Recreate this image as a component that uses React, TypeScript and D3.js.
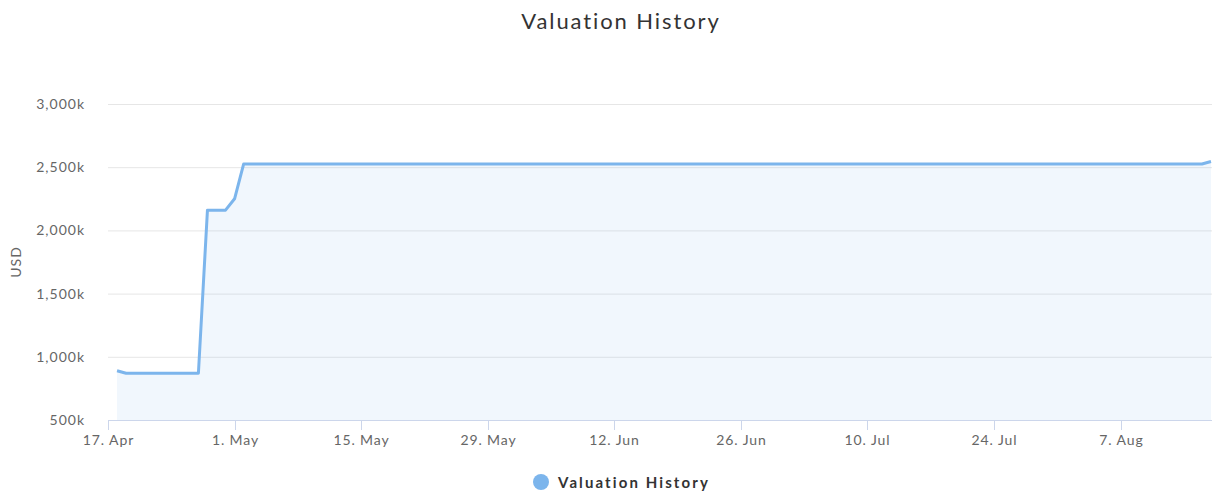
import React from "react";
import * as d3 from "d3";

const dates = [
  "2023-04-18", "2023-04-19", "2023-04-27", "2023-04-28", "2023-04-30",
  "2023-05-01", "2023-05-02", "2023-08-16", "2023-08-17",
];
const values = [890, 870, 870, 2160, 2160, 2250, 2525, 2525, 2545];
const yTicks = [500, 1000, 1500, 2000, 2500, 3000];
const xTickDates = [
  "2023-04-17", "2023-05-01", "2023-05-15", "2023-05-29", "2023-06-12",
  "2023-06-26", "2023-07-10", "2023-07-24", "2023-08-07",
];

const W = 1212;
const H = 491;
const left = 108;
const right = 1211;
const top = 104;
const bottom = 420;
const font = "'Lato', 'Open Sans', sans-serif";

const parse = d3.utcParse("%Y-%m-%d");

const App = () => {
  const points = dates.map((d, i) => ({ date: parse(d) as Date, value: values[i] }));
  const x = d3
    .scaleUtc()
    .domain([parse("2023-04-17") as Date, parse("2023-08-17") as Date])
    .range([left, right]);
  const y = d3.scaleLinear().domain([500, 3000]).range([bottom, top]);
  const fmtY = (v: number) => d3.format(",")(v) + "k";
  const fmtX = d3.utcFormat("%-d. %b");

  const line = d3
    .line<{ date: Date; value: number }>()
    .x(d => x(d.date))
    .y(d => y(d.value));
  const area = d3
    .area<{ date: Date; value: number }>()
    .x(d => x(d.date))
    .y0(bottom)
    .y1(d => y(d.value));

  return (
    <svg width={W} height={H} style={{ position: "absolute", left: 0, top: 0 }}>
      <rect width={W} height={H} fill="#fff" />
      <text x={W / 2 + 15} y={29} textAnchor="middle" fontFamily={font} fontSize={22} letterSpacing={1.9} fill="#333">
        Valuation History
      </text>
      {yTicks.map(t => (
        <g key={t}>
          {t !== 500 && (
            <line x1={left} x2={right + 1} y1={y(t) + 0.5} y2={y(t) + 0.5} stroke="#e6e6e6" />
          )}
          <text x={85} y={y(t) + 5} textAnchor="end" fontFamily={font} fontSize={14} letterSpacing={1} fill="#666">
            {fmtY(t)}
          </text>
        </g>
      ))}
      <text
        transform={`translate(21,${(top + bottom) / 2}) rotate(-90)`}
        textAnchor="middle"
        fontFamily={font}
        fontSize={14}
        letterSpacing={1}
        fill="#666"
      >
        USD
      </text>
      <path d={area(points) || ""} fill="#7cb5ec" fillOpacity={0.11} />
      <line x1={left} x2={right + 1} y1={bottom + 0.5} y2={bottom + 0.5} stroke="#ccd6eb" />
      {xTickDates.map(s => {
        const d = parse(s) as Date;
        const px = Math.round(x(d)) + 0.5;
        return (
          <g key={s}>
            <line x1={px} x2={px} y1={bottom} y2={bottom + 10} stroke="#ccd6eb" />
            <text x={px} y={bottom + 25} textAnchor="middle" fontFamily={font} fontSize={14} letterSpacing={0.9} fill="#666">
              {fmtX(d)}
            </text>
          </g>
        );
      })}
      <path d={line(points) || ""} fill="none" stroke="#7cb5ec" strokeWidth={3} strokeLinejoin="round" />
      <circle cx={541} cy={482} r={8} fill="#7cb5ec" />
      <text x={558} y={488} fontFamily={font} fontSize={15} fontWeight="bold" letterSpacing={2.1} fill="#333">
        Valuation History
      </text>
    </svg>
  );
};

export default App;
